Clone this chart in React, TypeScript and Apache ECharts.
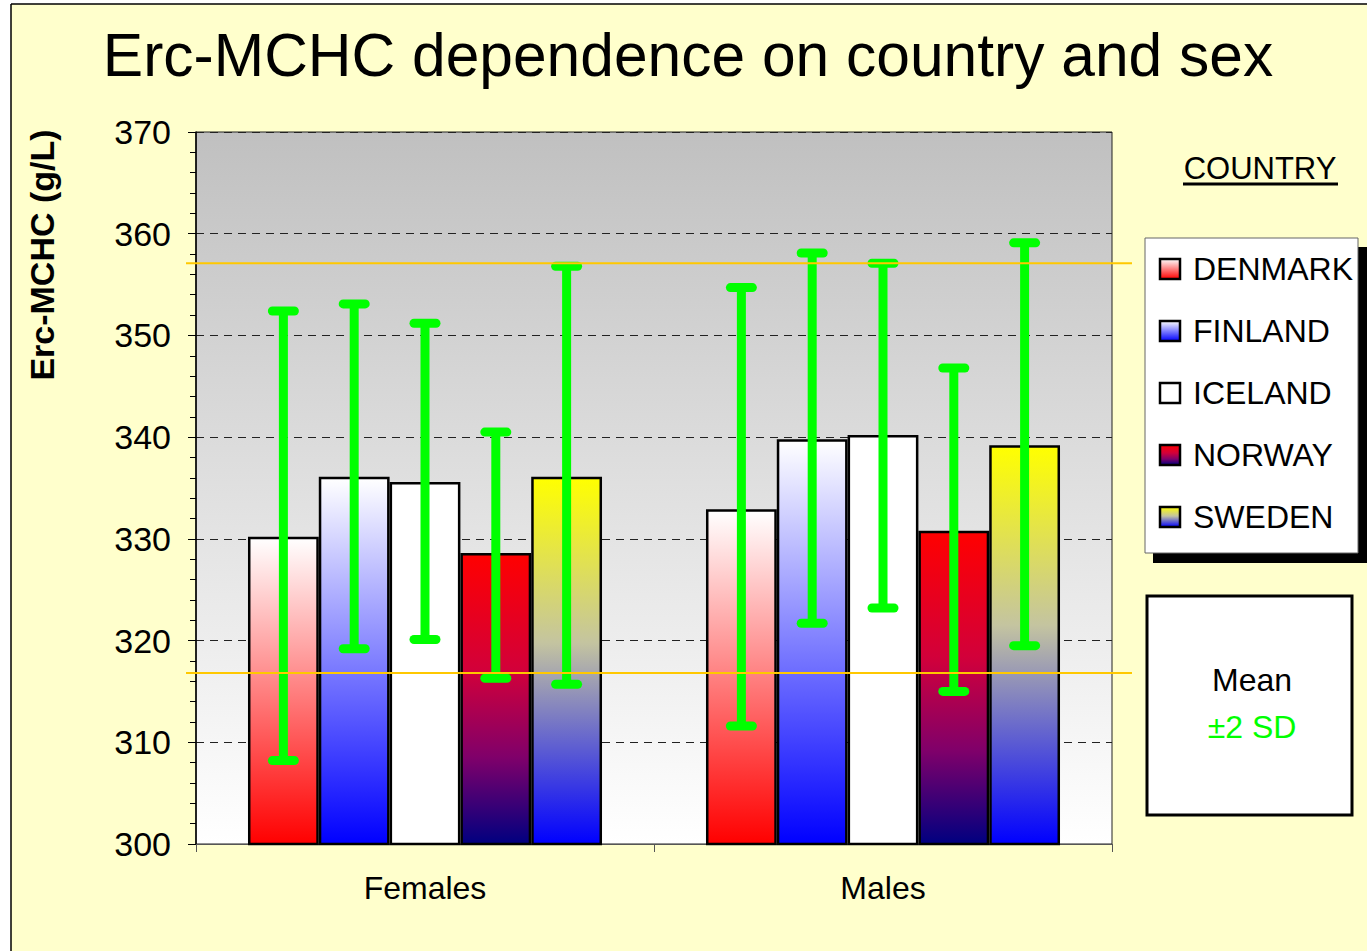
import React, { useEffect, useRef } from 'react';
import * as echarts from 'echarts';

// ---- data ----
const sexes = ['Females', 'Males'];
const countries = ['DENMARK', 'FINLAND', 'ICELAND', 'NORWAY', 'SWEDEN'];
const femaleMeans = [330.2, 336.1, 335.6, 328.6, 336.1];
const maleMeans = [332.9, 339.8, 340.2, 330.8, 339.2];
const femaleLow = [308.2, 319.2, 320.1, 316.3, 315.7];
const femaleHigh = [352.4, 353.1, 351.2, 340.5, 356.8];
const maleLow = [311.6, 321.7, 323.2, 315.0, 319.5];
const maleHigh = [354.7, 358.1, 357.1, 346.8, 359.1];
const refLines = [357.1, 316.8];
const yTicks = { min: 300, max: 370, interval: 10 };
const titleText = 'Erc-MCHC dependence on country and sex';
const yName = 'Erc-MCHC (g/L)';
const legendTitle = 'COUNTRY';
const boxLines = ['Mean', '\u00B12 SD'];

// ---- styles ----
const FONT = '"Liberation Sans", Arial, Helvetica, sans-serif';
const GAP = 0.227;
const fillStops: [number, string][][] = [
  [[0, '#FFFFFF'], [1, '#FF0000']],
  [[0, '#FFFFFF'], [1, '#0000FF']],
  [[0, '#FFFFFF'], [1, '#FFFFFF']],
  [[0, '#FF0000'], [0.4, '#D2003A'], [0.7, '#80006A'], [1, '#000080']],
  [[0, '#FFFF00'], [0.45, '#C4C4A0'], [1, '#0000FF']],
];
const grad = (stops: [number, string][]) =>
  new echarts.graphic.LinearGradient(0, 0, 0, 1, stops.map(([o, c]) => ({ offset: o, color: c })));

export default function App() {
  const ref = useRef<HTMLDivElement>(null);
  useEffect(() => {
    if (!ref.current) return;
    const chart = echarts.init(ref.current, null, { renderer: 'svg' });
    const means = [femaleMeans, maleMeans];
    const lows = [femaleLow, maleLow];
    const highs = [femaleHigh, maleHigh];

    const barSeries = countries.map((c, k) => ({
      type: 'bar',
      name: c,
      data: means.map((m) => m[k]),
      barGap: '0%',
      barCategoryGap: GAP * 100 + '%',
      itemStyle: { color: grad(fillStops[k]), borderColor: '#000', borderWidth: 2.5 },
      z: 2,
    }));

    const errData: number[][] = [];
    sexes.forEach((_, i) => countries.forEach((__, k) => errData.push([i, k, lows[i][k], highs[i][k]])));

    const legendItems: any[] = [];
    countries.forEach((c, k) => {
      const cy = 269 + k * 62;
      legendItems.push({
        type: 'rect',
        shape: { x: 1160, y: cy - 10, width: 20, height: 20 },
        style: { fill: grad(fillStops[k]), stroke: '#000', lineWidth: 2.5 },
        z: 20,
      });
      legendItems.push({
        type: 'text',
        x: 1193,
        y: cy,
        style: { text: c, font: `32px ${FONT}`, fill: '#000', verticalAlign: 'middle' },
        z: 20,
      });
    });

    chart.setOption({
      animation: false,
      backgroundColor: '#FFFFCC',
      grid: {
        left: 196,
        top: 132,
        right: 1367 - 1112,
        bottom: 951 - 844,
        show: true,
        backgroundColor: grad([[0, '#C0C0C0'], [1, '#FFFFFF']]),
        borderColor: '#222',
        borderWidth: 1,
        containLabel: false,
      },
      xAxis: {
        type: 'category',
        data: sexes,
        axisLine: { lineStyle: { color: '#555', width: 1 } },
        axisTick: { show: true, length: 8, lineStyle: { color: '#555' } },
        axisLabel: { fontSize: 32, fontFamily: FONT, color: '#000', margin: 28 },
      },
      yAxis: {
        type: 'value',
        min: yTicks.min,
        max: yTicks.max,
        interval: yTicks.interval,
        axisLine: { show: true, lineStyle: { color: '#000', width: 1.5 } },
        axisTick: { show: true, length: 8, lineStyle: { color: '#000' } },
        minorTick: { show: true, splitNumber: 5, length: 6, lineStyle: { color: '#000' } },
        splitLine: { show: true, lineStyle: { color: '#222', type: [8, 6], width: 1 } },
        axisLabel: { fontSize: 34, fontFamily: FONT, color: '#000', margin: 25 },
      },
      series: [
        ...barSeries,
        {
          type: 'custom',
          name: 'err',
          data: errData,
          encode: { x: 0, y: [2, 3] },
          z: 5,
          renderItem: (params: any, api: any) => {
            const i = api.value(0);
            const k = api.value(1);
            const lo = api.coord([i, api.value(2)]);
            const hi = api.coord([i, api.value(3)]);
            const catW = api.size([1, 0])[0];
            const bw = (catW * (1 - GAP)) / countries.length;
            const x = lo[0] + (k - (countries.length - 1) / 2) * bw;
            const st = { stroke: '#00FF00', lineWidth: 9 };
            const cap = { stroke: '#00FF00', lineWidth: 9, lineCap: 'round' };
            return {
              type: 'group',
              children: [
                { type: 'line', shape: { x1: x, y1: lo[1], x2: x, y2: hi[1] }, style: st },
                { type: 'line', shape: { x1: x - 11, y1: lo[1], x2: x + 11, y2: lo[1] }, style: cap },
                { type: 'line', shape: { x1: x - 11, y1: hi[1], x2: x + 11, y2: hi[1] }, style: cap },
              ],
            };
          },
        },
        {
          type: 'custom',
          name: 'ref',
          data: refLines.map((v) => [0, v]),
          encode: { x: 0, y: 1 },
          z: 8,
          clip: false,
          renderItem: (params: any, api: any) => {
            const y = api.coord([0, api.value(1)])[1];
            const cs = params.coordSys;
            return {
              type: 'line',
              shape: { x1: cs.x - 10, y1: y, x2: cs.x + cs.width + 20, y2: y },
              style: { stroke: '#FFC800', lineWidth: 2 },
            };
          },
        },
      ],
      graphic: [
        // page frame
        { type: 'rect', shape: { x: 0, y: 0, width: 1367, height: 4 }, style: { fill: '#FFFFFF' }, z: 30 },
        { type: 'rect', shape: { x: 0, y: 0, width: 11, height: 951 }, style: { fill: '#FFFFFF' }, z: 30 },
        { type: 'line', shape: { x1: 11, y1: 4, x2: 1367, y2: 4 }, style: { stroke: '#000', lineWidth: 1.5 }, z: 31 },
        { type: 'line', shape: { x1: 11, y1: 4, x2: 11, y2: 951 }, style: { stroke: '#000', lineWidth: 1.5 }, z: 31 },
        // title
        {
          type: 'text',
          x: 688,
          y: 55,
          style: { text: titleText, font: `60.5px ${FONT}`, fill: '#000', align: 'center', verticalAlign: 'middle' },
          z: 20,
        },
        // y axis name
        {
          type: 'text',
          x: 42,
          y: 255,
          rotation: Math.PI / 2,
          style: { text: yName, font: `bold 34px ${FONT}`, fill: '#000', align: 'center', verticalAlign: 'middle' },
          z: 20,
        },
        // legend title
        {
          type: 'text',
          x: 1260,
          y: 168,
          style: { text: legendTitle, font: `31px ${FONT}`, fill: '#000', align: 'center', verticalAlign: 'middle' },
          z: 20,
        },
        { type: 'line', shape: { x1: 1183, y1: 184, x2: 1338, y2: 184 }, style: { stroke: '#000', lineWidth: 3 }, z: 20 },
        // legend box with shadow
        { type: 'rect', shape: { x: 1153, y: 247, width: 214, height: 316 }, style: { fill: '#000' }, z: 18 },
        { type: 'rect', shape: { x: 1145, y: 238, width: 213, height: 315 }, style: { fill: '#FFFFFF', stroke: '#666', lineWidth: 1 }, z: 19 },
        ...legendItems,
        // mean / SD box
        { type: 'rect', shape: { x: 1147, y: 596, width: 205, height: 219 }, style: { fill: '#FFFFFF', stroke: '#000', lineWidth: 3 }, z: 19 },
        {
          type: 'text',
          x: 1252,
          y: 680,
          style: { text: boxLines[0], font: `32px ${FONT}`, fill: '#000', align: 'center', verticalAlign: 'middle' },
          z: 20,
        },
        {
          type: 'text',
          x: 1252,
          y: 727,
          style: { text: boxLines[1], font: `32px ${FONT}`, fill: '#00FF00', align: 'center', verticalAlign: 'middle' },
          z: 20,
        },
      ],
    });
    return () => chart.dispose();
  }, []);
  return (
    <div
      ref={ref}
      style={{ position: 'fixed', left: 0, top: 0, width: 1367, height: 951 }}
    />
  );
}
